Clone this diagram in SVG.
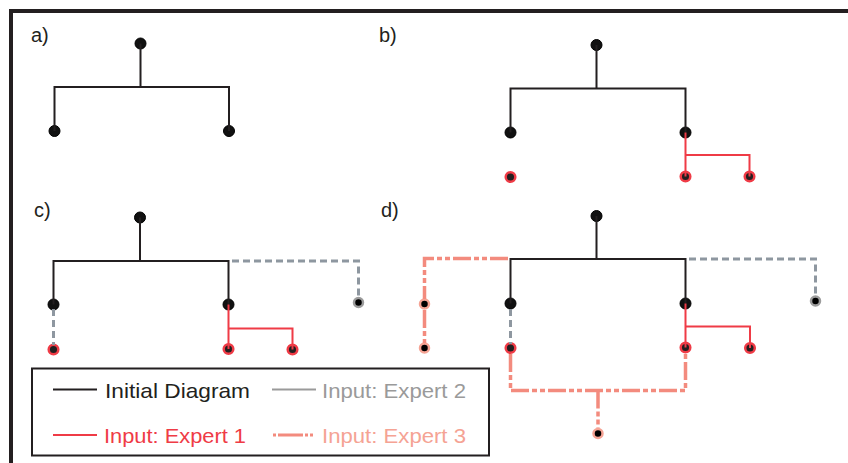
<svg xmlns="http://www.w3.org/2000/svg" width="848" height="463" viewBox="0 0 848 463">
<style>
.lbl{font-family:"Liberation Sans",Arial,sans-serif;font-size:20px;fill:#231f20}
.leg{font-family:"Liberation Sans",Arial,sans-serif;font-size:21px}
.blk{fill:none;stroke:#231f20;stroke-width:2}
.red{fill:none;stroke:#ef3b46;stroke-width:2}
.gry{fill:none;stroke:#8e97a0;stroke-width:3;stroke-dasharray:7 4}
.sal{fill:none;stroke:#f38b7e;stroke-width:3.5;stroke-dasharray:18 3 5 3 5 3}
.nb{fill:#111;stroke:#000;stroke-width:1}
.nr{fill:#231f20;stroke:#ef3b46;stroke-width:2.5}
.ng{fill:#000;stroke:#9c9c9c;stroke-width:2.5}
.ns{fill:#000;stroke:#f5a394;stroke-width:2.5}
</style>
<rect x="0" y="0" width="848" height="463" fill="#fff"/>
<g id="frame"><path d="M11 463 V11 H848" fill="none" stroke="#231f20" stroke-width="4"/></g>
<g id="labels">
<text class="lbl" x="31" y="42">a)</text>
<text class="lbl" x="379" y="42">b)</text>
<text class="lbl" x="34" y="217">c)</text>
<text class="lbl" x="381" y="217">d)</text>
</g>
<g id="nodes">
<g id="a-nodes">
<circle class="nb" cx="140.5" cy="43.5" r="5.5"/>
<circle class="nb" cx="54.5" cy="131" r="5.5"/>
<circle class="nb" cx="229" cy="131" r="5.5"/>
</g>
<g id="b-nodes">
<circle class="nb" cx="596.5" cy="45" r="5.5"/>
<circle class="nb" cx="510.5" cy="132.5" r="5.5"/>
<circle class="nb" cx="685.5" cy="132.5" r="5.5"/>
<circle class="nr" cx="510.5" cy="177" r="4.8"/>
<circle class="nr" cx="685.5" cy="176.5" r="4.8"/>
<circle class="nr" cx="749.5" cy="176.5" r="4.8"/>
</g>
<g id="c-nodes">
<circle class="nb" cx="140" cy="217.5" r="5.5"/>
<circle class="nb" cx="53.5" cy="304.5" r="5.5"/>
<circle class="nb" cx="228.5" cy="304.5" r="5.5"/>
<circle class="ng" cx="358.5" cy="302.5" r="4.5"/>
<circle class="nr" cx="53.5" cy="349.5" r="4.8"/>
<circle class="nr" cx="228.5" cy="349" r="4.8"/>
<circle class="nr" cx="292.5" cy="349.5" r="4.8"/>
</g>
<g id="d-nodes">
<circle class="nb" cx="596.5" cy="216" r="5.5"/>
<circle class="nb" cx="510.5" cy="303.5" r="5.5"/>
<circle class="nb" cx="685.5" cy="303.5" r="5.5"/>
<circle class="ng" cx="815.5" cy="301" r="4.5"/>
<circle class="ns" cx="424.5" cy="304" r="4.5"/>
<circle class="ns" cx="424.5" cy="348" r="4.5"/>
<circle class="nr" cx="510.5" cy="348" r="4.8"/>
<circle class="nr" cx="685.5" cy="347.5" r="4.8"/>
<circle class="nr" cx="750" cy="348" r="4.8"/>
<circle class="ns" cx="598" cy="433.5" r="4.5"/>
</g>
</g>
<g id="connectors">
<path class="blk" d="M140.5 43.5 V87 M54.5 131 V87 H229 V131"/>
<path class="blk" d="M596.5 45 V88.5 M510.5 132.5 V88.5 H685.5 V132.5"/>
<path class="red" d="M685.5 132.5 V176.5 M685.5 155 H749.5 V176.5"/>
<path class="blk" d="M140 217.5 V261 M53.5 304.5 V261 H228.5 V304.5"/>
<path class="gry" d="M232 261 H358.5 V297"/>
<path class="gry" d="M53.5 309 V345"/>
<path class="red" d="M228.5 304.5 V349 M228.5 328.5 H292.5 V349.5"/>
<path class="blk" d="M596.5 216 V259 M510.5 303.5 V259 H685.5 V303.5"/>
<path class="gry" d="M689 259 H815.5 V296"/>
<path class="sal" d="M508 258.5 H424.5 V299 M424.5 310 V343"/>
<path class="gry" d="M510.5 309 V344"/>
<path class="red" d="M685.5 303.5 V347.5 M685.5 326.5 H750 V348"/>
<path class="sal" d="M510.5 354 V390.5 H685.5 V354 M598 390.5 V428"/>
</g>
<g id="legend">
<rect x="32" y="368.5" width="457" height="87" fill="none" stroke="#231f20" stroke-width="2"/>
<line x1="53" y1="389.5" x2="97" y2="389.5" stroke="#231f20" stroke-width="2"/>
<text class="leg" x="105" y="397.5" fill="#231f20" textLength="145" lengthAdjust="spacingAndGlyphs">Initial Diagram</text>
<line x1="272" y1="389.5" x2="316" y2="389.5" stroke="#9a9a9a" stroke-width="2"/>
<text class="leg" x="322" y="397.5" fill="#9a9a9a" textLength="144" lengthAdjust="spacingAndGlyphs">Input: Expert 2</text>
<line x1="53" y1="435" x2="97" y2="435" stroke="#ef3b46" stroke-width="2"/>
<text class="leg" x="104" y="442.5" fill="#ef3b46" textLength="142" lengthAdjust="spacingAndGlyphs">Input: Expert 1</text>
<path d="M273 435 H314" fill="none" stroke="#f38b7e" stroke-width="3" stroke-dasharray="3 2 25 2 3 2"/>
<text class="leg" x="322" y="442.5" fill="#f5a394" textLength="144" lengthAdjust="spacingAndGlyphs">Input: Expert 3</text>
</g>
</svg>
